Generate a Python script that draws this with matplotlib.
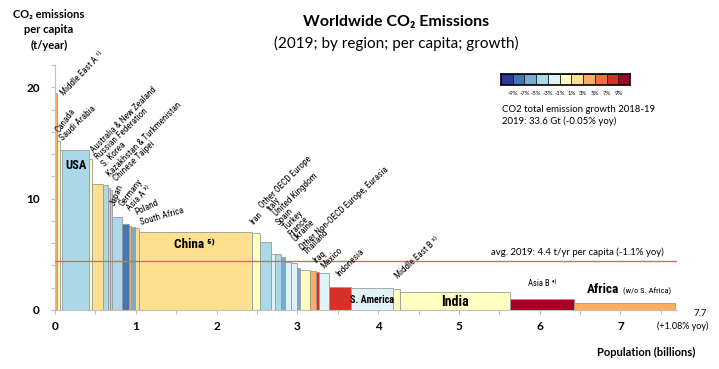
import numpy as np
import matplotlib
matplotlib.use('Agg')
import matplotlib.pyplot as plt

# regions sorted by per capita emissions (descending)
regions = ['Middle East A ¹⁾', 'Canada', 'Saudi Arabia', 'USA', 'Australia & New Zealand',
           'Russian Federation', 'S. Korea', 'Kazakhstan & Turkmenistan', 'Chinese Taipei',
           'Japan', 'Germany', 'Asia A ³⁾', 'Poland', 'South Africa', 'China',
           'Iran', 'Other OECD Europe', 'Italy', 'United Kingdom', 'Spain', 'Turkey',
           'France', 'Ukraine', 'Other Non-OECD Europe, Eurasia', 'Thailand', 'Iraq',
           'Mexico', 'Indonesia', 'S. America', 'Middle East B ²⁾', 'India', 'Asia B ⁴⁾',
           'Africa']
# population (billions)
population = [0.025, 0.035, 0.03, 0.335, 0.03, 0.145, 0.052, 0.025, 0.024, 0.126, 0.083,
              0.03, 0.045, 0.059, 1.40, 0.09, 0.135, 0.06, 0.067, 0.047, 0.083, 0.067,
              0.042, 0.12, 0.07, 0.045, 0.127, 0.27, 0.52, 0.08, 1.36, 0.80, 1.25]
# CO2 per capita (t/year)
per_capita = [19.5, 15.2, 14.4, 14.4, 13.6, 11.35, 11.2, 11.0, 10.75, 8.35, 7.7, 7.55,
              7.45, 7.35, 7.0, 6.95, 6.1, 5.05, 5.05, 4.8, 4.35, 4.26, 3.75, 3.6, 3.5,
              3.45, 3.3, 2.1, 2.0, 1.86, 1.6, 1.0, 0.6]
# growth class 2018-19 (%)
growth = [5, 1, 1, -3, 1, 3, -3, -3, -3, -3, -7, 5, -5, 3, 3, 1, -3, -1, -3, -5, -1,
          -1, -5, 1, 5, 9, -1, 9, -1, 1, 1, 11, 5]

growth_bins = [-9, -7, -5, -3, -1, 1, 3, 5, 7, 9, 11]
bin_colors = ['#313695', '#4575b4', '#74add1', '#abd9e9', '#e0f3f8', '#ffffbf',
              '#fee090', '#fdae61', '#f46d43', '#d73027', '#a50026']
legend_labels = ['-9%', '-7%', '-5%', '-3%', '-1%', '1%', '3%', '5%', '7%', '9%']

world_pop = 7.7
avg_per_capita = 4.4

# rotated label anchors (x, y in data units) and rotation, for the small regions
label_layout = {
    'Middle East A ¹⁾': (0.11, 19.2, 46), 'Canada': (0.06, 15.9, 54),
    'Saudi Arabia': (0.10, 15.2, 44), 'Australia & New Zealand': (0.485, 14.1, 45),
    'Russian Federation': (0.535, 13.5, 44), 'S. Korea': (0.62, 12.8, 46),
    'Kazakhstan & Turkmenistan': (0.68, 11.9, 45), 'Chinese Taipei': (0.76, 11.5, 44),
    'Japan': (0.74, 9.3, 68), 'Germany': (0.84, 9.3, 52), 'Asia A ³⁾': (0.93, 8.85, 46),
    'Poland': (1.01, 8.5, 25), 'South Africa': (1.07, 7.65, 16),
    'Iran': (2.45, 7.6, 47), 'Other OECD Europe': (2.57, 9.1, 45), 'Italy': (2.675, 8.8, 52),
    'United Kingdom': (2.74, 8.35, 44), 'Spain': (2.78, 7.6, 45), 'Turkey': (2.86, 7.15, 45),
    'France': (2.92, 6.55, 45), 'Ukraine': (2.98, 6.1, 45),
    'Other Non-OECD Europe, Eurasia': (3.065, 5.35, 43), 'Thailand': (3.11, 4.9, 45),
    'Iraq': (3.23, 4.15, 42), 'Mexico': (3.33, 3.7, 45), 'Indonesia': (3.52, 2.95, 45),
    'Middle East B ²⁾': (4.24, 2.75, 43),
}

NARROW = ['Liberation Sans Narrow', 'Roboto Condensed', 'DejaVu Sans']
MAIN = ['Lato', 'DejaVu Sans']
plt.rcParams['font.family'] = MAIN

W, H = 719, 369
def fx(p):
    return p / W
def fy(p):
    return 1 - p / H

fig = plt.figure(figsize=(W / 100, H / 100), dpi=100)
ax = fig.add_axes([fx(55), fy(310), fx(677) - fx(55), fy(65) - fy(310)])

lefts = np.concatenate([[0], np.cumsum(population)[:-1]])
cols = [bin_colors[growth_bins.index(g)] for g in growth]
ax.bar(lefts, per_capita, width=population, align='edge', color=cols,
       edgecolor='#9a9a9a', linewidth=0.6, zorder=2)

ax.axhline(avg_per_capita, xmin=0, xmax=1, color='#e06666', lw=1, zorder=3)
ax.text(7.53, avg_per_capita + 0.8, 'avg. 2019: 4.4 t/yr per capita (-1.1% yoy)',
        ha='right', va='center', fontsize=6.9)

ax.set_xlim(0, world_pop)
ax.set_ylim(0, 22)
ax.set_xticks(np.arange(0, 8, 1))
ax.set_xticks(np.arange(0, 7.6, 0.5), minor=True)
ax.set_yticks([0, 10, 20])
ax.set_yticks(np.arange(0, 23, 2), minor=True)
ax.tick_params(which='both', colors='#bfbfbf', length=3, width=0.8)
ax.tick_params(axis='both', labelcolor='black', labelsize=8.5)
ax.tick_params(axis='y', pad=8)
ax.tick_params(axis='x', pad=5)
for lab in ax.get_xticklabels() + ax.get_yticklabels():
    lab.set_fontweight('bold')
for s in ['top', 'right']:
    ax.spines[s].set_visible(False)
for s in ['left', 'bottom']:
    ax.spines[s].set_color('#bfbfbf')
    ax.spines[s].set_linewidth(0.8)

# rotated labels
for name, (x, y, rot) in label_layout.items():
    ax.text(x, y, name, rotation=rot, rotation_mode='anchor', ha='left', va='baseline',
            fontsize=6.6, family=NARROW)

# labels inside the large bars
def mid(name):
    i = regions.index(name)
    return lefts[i] + population[i] / 2

ax.text(mid('USA'), 13.0, 'USA', ha='center', va='center', fontsize=9,
        fontweight='bold', family=NARROW)
ax.text(mid('China') - 0.02, 5.85, 'China ⁵⁾', ha='center', va='center', fontsize=9.5,
        fontweight='bold', family=NARROW)
ax.text(mid('S. America'), 0.9, 'S. America', ha='center', va='center', fontsize=7.2,
        fontweight='bold', family=NARROW)
ax.text(mid('India'), 0.75, 'India', ha='center', va='center', fontsize=10,
        fontweight='bold', family=NARROW)
ax.text(mid('Asia B ⁴⁾'), 2.35, 'Asia B ⁴⁾', ha='center', va='center', fontsize=6.2,
        family=NARROW)
i_af = regions.index('Africa')
ax.text(lefts[i_af] + 0.16, 1.8, 'Africa', ha='left', va='center', fontsize=9.5,
        fontweight='bold', family=NARROW)
ax.text(lefts[i_af] + 0.6, 1.72, '(w/o S. Africa)', ha='left', va='center',
        fontsize=6, family=NARROW)

# titles and axis labels
fig.text(fx(396), fy(22), 'Worldwide CO₂ Emissions', ha='center', va='center',
         fontsize=11.5, fontweight='bold')
fig.text(fx(396), fy(43), '(2019; by region; per capita; growth)', ha='center',
         va='center', fontsize=11)
fig.text(fx(49), fy(30), 'CO₂ emissions\nper capita\n(t/year)', ha='center', va='center',
         fontsize=8, fontweight='bold', linespacing=1.45)
fig.text(fx(695), fy(352), 'Population (billions)', ha='right', va='center',
         fontsize=8, fontweight='bold')
fig.text(fx(700), fy(313), '7.7', ha='center', va='center', fontsize=7)
fig.text(fx(708), fy(326), '(+1.08% yoy)', ha='right', va='center', fontsize=6.5)

# growth color legend
lax = fig.add_axes([fx(501), fy(85), fx(630) - fx(501), fy(74) - fy(85)])
lax.bar(np.arange(len(bin_colors)), 1, width=1, color=bin_colors, edgecolor='#222222',
        linewidth=0.6)
lax.set_xlim(-0.5, len(bin_colors) - 0.5)
lax.set_ylim(0, 1)
lax.set_xticks([])
lax.set_yticks([])
for s in lax.spines.values():
    s.set_linewidth(1.2)
for k, lab in enumerate(legend_labels):
    lax.text(k + 0.5, -0.75, lab, ha='center', va='center', fontsize=4.3)
fig.text(fx(502), fy(110), 'CO2 total emission growth 2018-19', ha='left', va='center',
         fontsize=6.9)
fig.text(fx(502), fy(121), '2019: 33.6 Gt (-0.05% yoy)', ha='left', va='center',
         fontsize=6.9)

fig.savefig('out.png', dpi=100)
